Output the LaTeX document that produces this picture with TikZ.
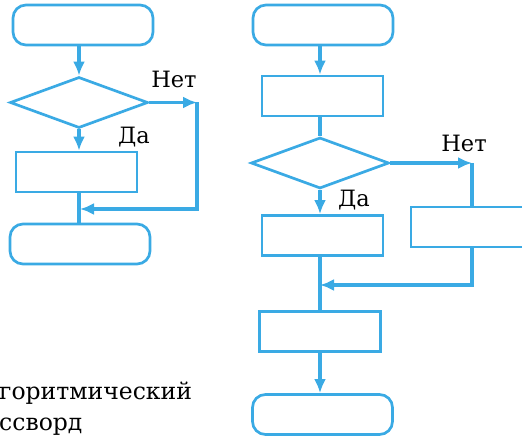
\documentclass[tikz,border=0pt]{standalone}
\usepackage{fontspec}
\setmainfont{DejaVu Serif}
\usetikzlibrary{arrows.meta,shapes.geometric}
\definecolor{flowblue}{RGB}{58,170,228}
\tikzset{
  term/.style={draw=flowblue,line width=2.7pt,rounded corners=13pt,
    minimum width=140pt,minimum height=40pt,inner sep=0pt},
  procbox/.style={draw=flowblue,line width=2.7pt,
    minimum width=121pt,minimum height=40pt,inner sep=0pt},
  cond/.style={draw=flowblue,line width=2.7pt,diamond,aspect=2.7,
    minimum width=138pt,minimum height=51pt,inner sep=0pt},
  flow/.style={draw=flowblue,line width=3.2pt,
    -{Latex[length=14pt,width=12pt]}},
  link/.style={draw=flowblue,line width=3.2pt},
  lab/.style={font=\fontsize{22.5}{26}\selectfont,inner sep=0pt}
}
\begin{document}
\begin{tikzpicture}[x=1pt,y=-1pt]
  \useasboundingbox (0,0) rectangle (522,438);
  % left chart
  \node[term] (ls) at (83,25) {};
  \node[cond] (lc) at (79,102.5) {};
  \node[procbox] (lp) at (76.5,172) {};
  \node[term] (le) at (80,244) {};
  \coordinate (lnr) at (197,102.5);
  \coordinate (lnb) at (197,209);
  \coordinate (lj) at (80,209);
  \draw[flow] (ls.south -| lc.north) -- (lc.north);
  \draw[flow] (lc.south) -- (lc.south |- lp.north);
  \draw[link] (lp.south -| lc.south) -- (le.north -| lc.south);
  \draw[flow] (lc.east) -- (lnr);
  \draw[link] (lnr) -- (lnb) -- ++(-40,0);
  \draw[flow] (lnb) -- (lj);
  \node[lab] (lno) at (174,79) {Нет};
  \node[lab] (lyes) at (134,137) {Да};
  % right chart
  \node[term] (rs) at (323,25) {};
  \node[procbox] (rp1) at (322.5,96) {};
  \node[cond] (rc) at (320,163) {};
  \node[procbox] (rp2) at (322.5,235.5) {};
  \node[procbox] (rp3) at (471.5,227) {};
  \node[procbox] (rp4) at (320,331.5) {};
  \node[term] (re) at (322.5,414.5) {};
  \coordinate (rnr) at (472,163);
  \coordinate (rnb) at (472,285);
  \coordinate (rj) at (320,285);
  \draw[flow] (rs.south -| rc.north) -- (rc.north |- rp1.north);
  \draw[link] (rc.north |- rp1.south) -- (rc.north);
  \draw[flow] (rc.south) -- (rc.south |- rp2.north);
  \draw[link] (rc.south |- rp2.south) -- (rc.south |- rp4.north);
  \draw[flow] (rc.south |- rp4.south) -- (rc.south |- re.north);
  \draw[flow] (rc.east) -- (rnr);
  \draw[link] (rnr) -- (rp3.north -| rnr);
  \draw[link] (rp3.south -| rnr) -- (rnb) -- ++(-40,0);
  \draw[flow] (rnb) -- (rj);
  \node[lab] (rno) at (464,143) {Нет};
  \node[lab] (ryes) at (354,200) {Да};
  % caption
  \node[lab,anchor=base west,font=\fontsize{23.5}{28}\selectfont] (cap1) at (-1,399) {горитмический};
  \node[lab,anchor=base west,font=\fontsize{23.5}{28}\selectfont] (cap2) at (-1,430) {ссворд};
\end{tikzpicture}
\end{document}
